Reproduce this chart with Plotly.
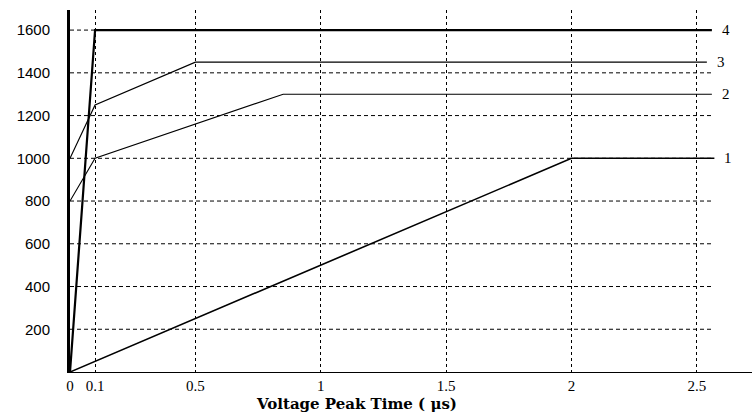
import plotly.graph_objects as go

# ---- data ----
line1_x = [0, 2.0, 2.57]
line1_y = [0, 1000, 1000]
line2_x = [0, 0.1, 0.85, 2.56]
line2_y = [800, 1000, 1300, 1300]
line3_x = [0, 0.1, 0.5, 2.54]
line3_y = [1000, 1250, 1450, 1450]
line4_x = [0, 0.1, 2.56]
line4_y = [0, 1600, 1600]
series_labels = ["1", "2", "3", "4"]

x_tickvals = [0, 0.1, 0.5, 1, 1.5, 2, 2.5]
x_ticktext = ["0", "0.1", "0.5", "1", "1.5", "2", "2.5"]
y_tickvals = [200, 400, 600, 800, 1000, 1200, 1400, 1600]
y_ticktext = ["200", "400", "600", "800", "1000", "1200", "1400", "1600"]
x_title = "Voltage Peak Time ( μs)"

grid_end = 2.56

fig = go.Figure()
series = [
    (line1_x, line1_y, 1.6),
    (line2_x, line2_y, 1.1),
    (line3_x, line3_y, 1.2),
    (line4_x, line4_y, 2.2),
]
for (xs, ys, w), lab in zip(series, series_labels):
    fig.add_trace(go.Scatter(x=xs, y=ys, mode="lines",
                             line=dict(color="black", width=w),
                             showlegend=False, hoverinfo="skip"))
    fig.add_annotation(x=xs[-1], y=ys[-1], text=lab, showarrow=False,
                       xanchor="left", yanchor="middle", xshift=8,
                       font=dict(family="Liberation Serif", size=15, color="black"))

# horizontal dashed grid lines (stop short of the right edge)
for yv in y_tickvals:
    fig.add_shape(type="line", x0=0, x1=grid_end, y0=yv, y1=yv,
                  xref="x", yref="y", layer="below",
                  line=dict(color="black", width=1, dash="4px,3px"))

fig.add_annotation(x=0.42, y=-0.088, xref="paper", yref="paper",
                   text="<b>" + x_title + "</b>", showarrow=False,
                   xanchor="center", yanchor="middle",
                   font=dict(family="DejaVu Serif", size=15, color="black"))

fig.update_layout(
    width=752, height=414,
    margin=dict(l=70, r=0, t=10, b=42),
    paper_bgcolor="white", plot_bgcolor="white",
    xaxis=dict(range=[0, 2.72], tickvals=x_tickvals, ticktext=x_ticktext,
               showgrid=True, gridcolor="black", gridwidth=1, griddash="3px,3px",
               showline=True, linecolor="black", linewidth=1,
               ticks="", zeroline=False,
               tickfont=dict(family="Liberation Serif", size=15, color="black")),
    yaxis=dict(range=[0, 1694], tickvals=y_tickvals, ticktext=y_ticktext,
               showgrid=False, showline=True, linecolor="black", linewidth=3,
               ticks="", zeroline=False, ticklabelstandoff=14,
               tickfont=dict(family="Liberation Sans", size=15, color="black")),
)

fig.write_html("out.html")
